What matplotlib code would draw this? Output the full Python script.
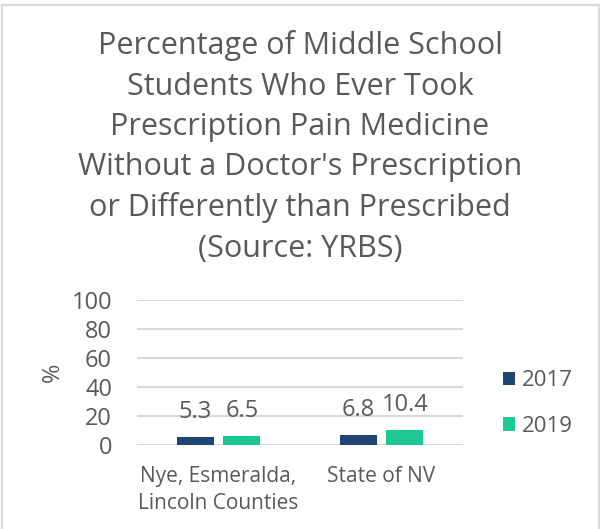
import numpy as np
import matplotlib.pyplot as plt
from matplotlib.patches import Rectangle

plt.rcParams['font.family'] = ['Open Sans', 'DejaVu Sans']

# data
categories = ["Nye, Esmeralda,\nLincoln Counties", "State of NV"]
years = ["2017", "2019"]
values_2017 = [5.3, 6.8]
values_2019 = [6.5, 10.4]
yticks = [0, 20, 40, 60, 80, 100]

title = ("Percentage of Middle School\nStudents Who Ever Took\n"
         "Prescription Pain Medicine\nWithout a Doctor's Prescription\n"
         "or Differently than Prescribed\n(Source: YRBS)")

gray = "#595959"
navy = "#1F4670"
green = "#1DC894"

W, H = 600, 529
fig = plt.figure(figsize=(W / 100, H / 100), dpi=100)

# outer border (bottom runs off the image)
fig.patches.append(Rectangle((2 / W, -0.02), (598.5 - 2) / W, 1 - 5 / H + 0.02,
                             transform=fig.transFigure, fill=False,
                             edgecolor="#D9D9D9", linewidth=1.6))

fig.text(300 / W, 1 - 147 / H, title, ha="center", va="center",
         fontsize=22, color=gray, linespacing=1.44)

# plot area: x 137..463, y 300..445 px
ax = fig.add_axes([137 / W, 1 - 445 / H, (463 - 137) / W, (445 - 300) / H])

x = np.arange(len(categories))
w = 0.225
off = 0.143
b1 = ax.bar(x - off, values_2017, w, color=navy, label=years[0], zorder=3)
b2 = ax.bar(x + off, values_2019, w, color=green, label=years[1], zorder=3)

for bars, vals in [(b1, values_2017), (b2, values_2019)]:
    for r, v in zip(bars, vals):
        ax.text(r.get_x() + r.get_width() / 2, v + 9, f"{v}", ha="center",
                va="bottom", fontsize=17, color=gray)

ax.set_xlim(-0.5, 1.5)
ax.set_ylim(0, 100)
ax.set_yticks(yticks)
ax.set_xticks(x)
ax.set_xticklabels(categories, fontsize=15, color=gray, linespacing=1.4)
ax.tick_params(axis="y", labelsize=17, labelcolor=gray, length=0, pad=18)
ax.tick_params(axis="x", length=0, pad=15)
ax.grid(axis="y", color="#D9D9D9", linewidth=1.5, zorder=0)
for s in ax.spines.values():
    s.set_visible(False)

ax.set_ylabel("%", fontsize=17, color=gray, labelpad=5)

ax.legend(loc="center left", bbox_to_anchor=(1.06, 0.285), frameon=False,
          fontsize=16, labelcolor=gray, handlelength=0.55, handleheight=0.55,
          handletextpad=0.3, labelspacing=1.1)

fig.savefig("out.png", dpi=100)
